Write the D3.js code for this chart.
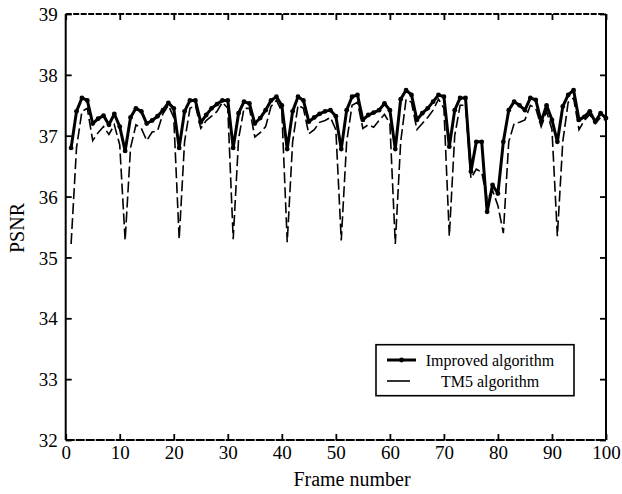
<!DOCTYPE html>
<html lang="en">
<head>
<meta charset="utf-8">
<title>PSNR per frame</title>
<script src="https://d3js.org/d3.v7.min.js"></script>
<style>
body { margin: 0; background: #fff; }
text { font-family: "Liberation Serif", "Times New Roman", serif; fill: #000; }
</style>
</head>
<body>
<script type="text/javascript">
var w = 622;
var h = 494;

// frames 1..100
var frames = d3.range(1, 101);

// PSNR of the improved algorithm
var improved = [
  36.80, 37.40, 37.62, 37.58, 37.20, 37.28, 37.33, 37.18, 37.36, 37.15,
  36.75, 37.30, 37.45, 37.40, 37.20, 37.25, 37.32, 37.42, 37.54, 37.45,
  36.80, 37.40, 37.58, 37.58, 37.22, 37.34, 37.45, 37.52, 37.58, 37.58,
  36.80, 37.37, 37.56, 37.53, 37.20, 37.29, 37.42, 37.58, 37.64, 37.50,
  36.78, 37.40, 37.64, 37.58, 37.23, 37.30, 37.36, 37.40, 37.42, 37.32,
  36.78, 37.42, 37.64, 37.67, 37.26, 37.34, 37.38, 37.42, 37.53, 37.42,
  36.78, 37.60, 37.75, 37.67, 37.26, 37.37, 37.45, 37.56, 37.67, 37.64,
  36.82, 37.42, 37.62, 37.62, 36.41, 36.90, 36.90, 35.75, 36.19, 36.05,
  36.90, 37.42, 37.56, 37.50, 37.42, 37.62, 37.59, 37.23, 37.50, 37.26,
  36.90, 37.48, 37.67, 37.75, 37.26, 37.31, 37.40, 37.23, 37.37, 37.29
];

// PSNR of TM5
var tm5 = [
  35.22, 36.80, 37.40, 37.45, 36.92, 37.05, 37.15, 37.02, 37.18, 36.85,
  35.28, 36.80, 37.18, 37.12, 36.92, 37.06, 37.08, 37.36, 37.50, 37.30,
  35.30, 36.90, 37.45, 37.50, 37.12, 37.25, 37.32, 37.40, 37.55, 37.45,
  35.30, 36.95, 37.45, 37.45, 36.98, 37.05, 37.15, 37.48, 37.58, 37.40,
  35.25, 36.90, 37.50, 37.45, 37.03, 37.10, 37.22, 37.25, 37.30, 37.10,
  35.28, 36.90, 37.50, 37.55, 37.12, 37.18, 37.14, 37.25, 37.35, 37.20,
  35.22, 36.90, 37.60, 37.55, 37.10, 37.20, 37.30, 37.42, 37.60, 37.45,
  35.35, 37.00, 37.50, 37.50, 36.30, 36.45, 36.40, 35.95, 36.10, 35.85,
  35.40, 36.90, 37.20, 37.22, 37.26, 37.50, 37.45, 37.15, 37.40, 37.10,
  35.35, 36.90, 37.55, 37.62, 37.10, 37.25, 37.35, 37.20, 37.30, 37.25
];

var xTicks = [0, 10, 20, 30, 40, 50, 60, 70, 80, 90, 100];
var yTicks = [32, 33, 34, 35, 36, 37, 38, 39];
var seriesNames = ["Improved algorithm", "TM5 algorithm"];

var plotL = 65.7, plotR = 606, plotT = 14, plotB = 440;

var xScale = d3.scaleLinear().domain([0, 100]).range([plotL, plotR]);
var yScale = d3.scaleLinear().domain([32, 39]).range([plotB, plotT]);

var svg = d3.select("body")
            .append("svg")
            .attr("width", w)
            .attr("height", h);

// axes with inward ticks
var gx = svg.append("g")
   .attr("transform", "translate(0," + plotB + ")")
   .call(d3.axisBottom(xScale).tickValues(xTicks).tickSize(-6).tickPadding(6).tickFormat(d3.format("d")));
var gxt = svg.append("g")
   .attr("transform", "translate(0," + plotT + ")")
   .call(d3.axisTop(xScale).tickValues(xTicks).tickSize(-6).tickFormat(""));
var gy = svg.append("g")
   .attr("transform", "translate(" + plotL + ",0)")
   .call(d3.axisLeft(yScale).tickValues(yTicks).tickSize(-6).tickPadding(8).tickFormat(d3.format("d")));
var gyr = svg.append("g")
   .attr("transform", "translate(" + plotR + ",0)")
   .call(d3.axisRight(yScale).tickValues(yTicks).tickSize(-6).tickFormat(""));

[gx, gxt, gy, gyr].forEach(function(g){
  g.select(".domain").remove();
  g.selectAll(".tick line").attr("stroke", "#000").attr("stroke-width", 1.8);
  g.selectAll("text").attr("font-size", "19px").attr("fill", "#000")
   .attr("font-family", "'Liberation Serif', 'Times New Roman', serif");
});
gy.selectAll("text").attr("dy", "0.35em");

// frame
svg.append("line").attr("x1", plotL).attr("x2", plotL).attr("y1", plotT).attr("y2", plotB)
   .attr("stroke", "#000").attr("stroke-width", 2);
svg.append("line").attr("x1", plotR).attr("x2", plotR).attr("y1", plotT).attr("y2", plotB)
   .attr("stroke", "#000").attr("stroke-width", 2);
svg.append("line").attr("x1", plotL).attr("x2", plotR).attr("y1", plotT).attr("y2", plotT)
   .attr("stroke", "#000").attr("stroke-width", 2).attr("stroke-dasharray", "6,1.5");
svg.append("line").attr("x1", plotL).attr("x2", plotR).attr("y1", plotB).attr("y2", plotB)
   .attr("stroke", "#000").attr("stroke-width", 2).attr("stroke-dasharray", "9,1");

var line = d3.line()
  .x(function(d){ return xScale(d[0]); })
  .y(function(d){ return yScale(d[1]); });

var tmData = frames.map(function(f, i){ return [f, tm5[i]]; });
var imData = frames.map(function(f, i){ return [f, improved[i]]; });

svg.append("path")
   .datum(tmData)
   .attr("d", line)
   .attr("fill", "none")
   .attr("stroke", "#000")
   .attr("stroke-width", 1.6)
   .attr("stroke-dasharray", "11,4");

svg.append("path")
   .datum(imData)
   .attr("d", line)
   .attr("fill", "none")
   .attr("stroke", "#000")
   .attr("stroke-width", 3)
   .attr("stroke-linejoin", "round");

svg.selectAll("circle.pt")
   .data(imData)
   .enter()
   .append("circle")
   .attr("class", "pt")
   .attr("cx", function(d){ return xScale(d[0]); })
   .attr("cy", function(d){ return yScale(d[1]); })
   .attr("r", 2.4)
   .attr("fill", "#000");

// axis titles
svg.append("text")
   .attr("x", 352).attr("y", 486)
   .attr("text-anchor", "middle")
   .attr("font-size", "20px")
   .text("Frame number");

svg.append("text")
   .attr("transform", "translate(24,228) rotate(-90)")
   .attr("text-anchor", "middle")
   .attr("font-size", "20px")
   .text("PSNR");

// legend
var lg = svg.append("g");
lg.append("rect")
  .attr("x", 376).attr("y", 344.7)
  .attr("width", 198).attr("height", 51)
  .attr("fill", "#fff").attr("stroke", "#000").attr("stroke-width", 1.6);

lg.append("line").attr("x1", 387).attr("x2", 416).attr("y1", 360).attr("y2", 360)
  .attr("stroke", "#000").attr("stroke-width", 3);
lg.append("circle").attr("cx", 401.5).attr("cy", 360).attr("r", 2.4).attr("fill", "#000");
lg.append("line").attr("x1", 387).attr("x2", 410).attr("y1", 381).attr("y2", 381)
  .attr("stroke", "#000").attr("stroke-width", 1.6);

lg.selectAll("text.lab")
  .data(seriesNames)
  .enter()
  .append("text")
  .attr("class", "lab")
  .attr("x", 490)
  .attr("y", function(d, i){ return 365.5 + i * 21; })
  .attr("text-anchor", "middle")
  .attr("font-size", "16px")
  .text(function(d){ return d; });
</script>
</body>
</html>
